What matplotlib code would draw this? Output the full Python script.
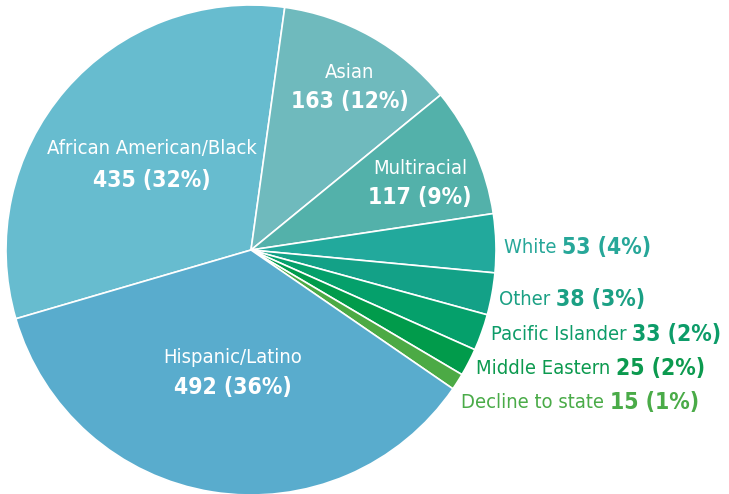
import matplotlib
matplotlib.use("Agg")
import matplotlib.pyplot as plt
from matplotlib import font_manager as fm

categories = ["African American/Black", "Asian", "Multiracial", "White", "Other",
              "Pacific Islander", "Middle Eastern", "Decline to state", "Hispanic/Latino"]
counts = [435, 163, 117, 53, 38, 33, 25, 15, 492]
percents = [32, 12, 9, 4, 3, 2, 2, 1, 36]
colors = ["#67bccf", "#6fbabd", "#53b1aa", "#22a99c", "#13a187",
          "#05a06b", "#019b4b", "#4caa45", "#59accd"]
text_colors = ["white", "white", "white", "#27a799", "#1ba084",
               "#0d9c69", "#0c9a4f", "#4aab48", "white"]

# pick narrowest available font
names = {f.name for f in fm.fontManager.ttflist}
stretch = "normal"
if "Liberation Sans Narrow" in names:
    family = "Liberation Sans Narrow"
else:
    family = "DejaVu Sans"
    if any(f.name == "DejaVu Sans" and f.stretch == "condensed" for f in fm.fontManager.ttflist):
        stretch = "condensed"

W, H = 729, 494
fig = plt.figure(figsize=(W / 100, H / 100), dpi=100)
ax = fig.add_axes([0, 0, 1, 1])

cx, cy, r = 251, 250, 245
# pie drawn with y-down axis: counterclock=True appears clockwise on screen
ax.pie(counts, colors=colors, startangle=-196.3, counterclock=True,
       center=(cx, cy), radius=r, frame=True,
       wedgeprops=dict(edgecolor="white", linewidth=1.2))
ax.set_xlim(0, W)
ax.set_ylim(H, 0)
ax.set_aspect("equal")
ax.axis("off")

fs = 14.5
fsb = 16.5
kw = dict(family=family, fontstretch=stretch)

inside = {0: (152, 148, 180), 1: (350, 73, 101), 2: (420, 168, 197), 8: (233, 357, 387)}
for i, (x, y1, y2) in inside.items():
    ax.text(x, y1, categories[i], ha="center", va="center", color="white", fontsize=fs, **kw)
    ax.text(x, y2, f"{counts[i]} ({percents[i]}%)", ha="center", va="center",
            color="white", fontsize=fsb, fontweight="bold", **kw)

outside = {3: (504, 247), 4: (499, 299), 5: (491, 334), 6: (476, 368), 7: (461, 402)}
fig.canvas.draw()
renderer = fig.canvas.get_renderer()
for i, (x, y) in outside.items():
    t = ax.text(x, y, categories[i] + " ", ha="left", va="center", color=text_colors[i],
                fontsize=fs, **kw)
    bb = t.get_window_extent(renderer)
    x2 = ax.transData.inverted().transform((bb.x1, bb.y0))[0]
    ax.text(x2, y, f"{counts[i]} ({percents[i]}%)", ha="left", va="center",
            color=text_colors[i], fontsize=fsb, fontweight="bold", **kw)

fig.savefig("out.png", dpi=100)
